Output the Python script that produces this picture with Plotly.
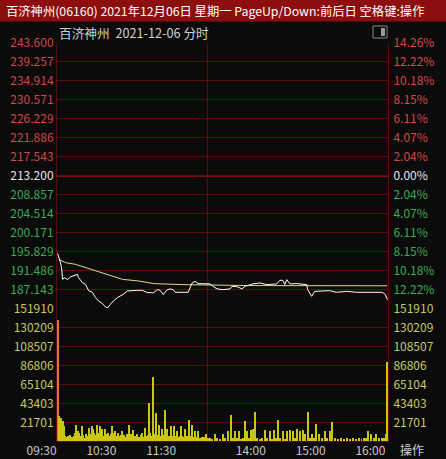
import plotly.graph_objects as go

# ---------------- data ----------------
prev_close = 213.2
price_levels = [243.600, 239.257, 234.914, 230.571, 226.229, 221.886, 217.543,
                213.200, 208.857, 204.514, 200.171, 195.829, 191.486, 187.143]
pct_labels = ["14.26%", "12.22%", "10.18%", "8.15%", "6.11%", "4.07%", "2.04%",
              "0.00%", "2.04%", "4.07%", "6.11%", "8.15%", "10.18%", "12.22%"]
vol_levels = [21701, 43403, 65104, 86806, 108507, 130209, 151910]
time_pos = [0, 60, 120, 210, 270, 330]
time_labels = ["09:30", "10:30", "11:30", "14:00", "15:00", "16:00"]
lunch_break = [150]

# minute index (0 = 09:30, 150 = 13:00 after lunch) and price
price_minutes = [0, 2, 4, 5, 7, 10, 13, 16, 20, 21, 25, 28, 31, 35, 38, 41, 45, 48, 50,
                 53, 56, 60, 63, 66, 70, 75, 80, 85, 90, 94, 96, 100, 103, 106, 110,
                 113, 116, 118, 131, 135, 138, 141, 150, 153, 156, 160, 166, 173, 175,
                 180, 183, 185, 188, 193, 196, 203, 210, 220, 223, 226, 228, 230, 233,
                 240, 250, 251, 255, 258, 263, 273, 280, 290, 300, 313, 320, 326, 329, 331]
price_values = [195.35, 194.0, 192.1, 189.43, 189.8, 189.4, 189.98, 190.2, 190.57, 189.8,
                188.67, 188.29, 186.9, 186.39, 185.25, 184.49, 183.87, 183.12, 182.85,
                183.7, 184.49, 185.25, 185.63, 186.0, 186.78, 186.91, 186.91, 186.91,
                186.39, 186.39, 186.32, 187.07, 186.91, 185.93, 187.07, 187.23, 187.07,
                186.46, 186.46, 188.6, 188.97, 188.45, 188.45, 188.38, 187.83, 187.24,
                187.07, 187.23, 187.83, 187.75, 187.46, 187.23, 187.83, 188.22, 188.38,
                188.6, 188.22, 188.38, 189.2, 189.2, 188.22, 189.36, 188.38, 188.45,
                188.22, 187.07, 185.54, 186.68, 186.68, 186.84, 186.46, 186.68, 186.46,
                186.46, 186.46, 186.46, 185.93, 184.79]

avg_minutes = [1, 8, 18, 31, 48, 65, 81, 93, 97, 126, 193, 331]
avg_values = [194.0, 193.25, 192.86, 191.94, 190.57, 189.43, 189.06, 188.6, 188.45,
              188.22, 188.0, 187.95]

vol_minutes = [0, 1, 2, 3, 4, 5, 6, 7, 8, 9, 10, 11, 12, 13, 14, 15, 16, 17, 18, 19, 20,
               21, 22, 23, 24, 25, 26, 27, 28, 29, 30, 31, 32, 33, 34, 35, 36, 37, 38, 39,
               40, 41, 42, 43, 44, 45, 46, 47, 48, 49, 50, 51, 52, 53, 54, 55, 56, 57, 58,
               59, 60, 61, 62, 63, 64, 65, 66, 67, 68, 69, 70, 71, 72, 73, 74, 75, 76, 77,
               78, 79, 80, 81, 82, 83, 84, 85, 86, 87, 88, 89, 90, 91, 92, 93, 94, 95, 96,
               97, 98, 99, 100, 101, 102, 103, 104, 105, 106, 107, 108, 109, 110, 111, 112,
               113, 114, 115, 116, 117, 118, 119, 120, 121, 122, 123, 124, 125, 126, 127,
               128, 129, 130, 131, 132, 133, 134, 135, 136, 137, 138, 139, 140, 141, 142,
               143, 144, 145, 146, 147, 148, 149,
               151, 153, 155, 158, 160, 163, 166, 168, 171, 174, 176, 178, 180, 182, 184,
               186, 188, 190, 192, 194, 196, 198, 200, 203, 205, 208, 210, 213, 215, 217,
               219, 221, 223, 226, 228, 230, 233, 236, 238, 240, 243, 246, 248, 251, 253,
               255, 257, 259, 262, 265, 268, 270, 273, 275, 278, 281, 284, 287, 290, 293,
               296, 299, 302, 305, 308, 310, 312, 315, 318, 320, 323, 326, 328, 330, 331]
vol_values = [138600, 28900, 24000, 26300, 20000, 22400, 16700, 6000, 5000, 4500, 5500,
              4000, 6500, 3500, 5000, 4000, 6000, 9000, 18600, 7000, 11000, 9000, 5500,
              4500, 16700, 7000, 6000, 4000, 5000, 7500, 4500, 6000, 14800, 8000, 6000,
              16700, 14000, 9000, 7000, 6500, 18600, 8000, 9500, 16700, 7000, 14000, 6000,
              5000, 14000, 8000, 6500, 9000, 5000, 6000, 7500, 16700, 9000, 6000, 11000,
              5500, 4500, 9000, 6000, 4000, 7000, 11000, 5000, 6500, 4500, 3500, 7500,
              5000, 18600, 6000, 8000, 4000, 13000, 5500, 4500, 6000, 7500, 4000, 5000,
              3500, 6500, 9000, 4500, 5000, 14800, 6000, 5500, 7000, 43400, 9000, 6000,
              5000, 73100, 8000, 6000, 32000, 7000, 5500, 18600, 6000, 5000, 14000, 4500,
              6500, 35800, 7000, 14000, 5000, 6000, 4500, 16700, 6000, 5000, 16700, 5500,
              4000, 11000, 5000, 4000, 6000, 16700, 5500, 4500, 5000, 14000, 4000, 6000,
              4500, 23500, 5000, 6000, 18600, 4500, 4000, 11000, 3500, 5000, 11000, 3000,
              4000, 3500, 5000, 3000, 4500, 3000, 7500,
              3000, 4000, 2500, 7500, 3000, 2500, 7500, 3000, 11000, 30000, 3500, 11000,
              3000, 11000, 2500, 4000, 22400, 11000, 3000, 12000, 14000, 33100, 3000,
              2000, 3500, 12000, 3000, 11000, 2500, 12000, 3000, 24300, 3500, 11000,
              2500, 11000, 12000, 11500, 3000, 14000, 11000, 12000, 7500, 33100, 3000,
              7500, 3000, 19800, 7500, 3000, 11000, 3000, 11000, 22000, 3500, 2500, 3000,
              2000, 3500, 2500, 3000, 2500, 3500, 2500, 3000, 3500, 11000, 8500, 3000,
              8500, 3000, 3500, 3000, 7500, 90000]

# ---------------- styling ----------------
BG = "#0b0b0b"
GRID = "#5e0d0d"
RED = "#d04848"
GREEN = "#3caa52"
WHITE = "#e6e6e6"
YEL = "#c8c864"
FONT = "Noto Sans CJK SC"

W, H = 446, 459
def px(x):
    return x / W
def py(y):
    return 1 - y / H

def col(v):
    if abs(v - prev_close) < 1e-6:
        return WHITE
    return RED if v > prev_close else GREEN

left_text = [f'<span style="color:{col(v)}">{v:.3f}</span>' for v in price_levels]
right_text = [f'<span style="color:{col(v)}">{t}</span>' for v, t in zip(price_levels, pct_labels)]
vol_text = [str(v) for v in vol_levels]

fig = go.Figure()
fig.add_trace(go.Bar(x=vol_minutes, y=vol_values, xaxis="x", yaxis="y2",
                     marker=dict(color=["#e07828"] + ["#c8c814"] * (len(vol_values) - 1),
                                 line=dict(width=0)),
                     width=1.0, showlegend=False, hoverinfo="skip"))
fig.add_trace(go.Scatter(x=avg_minutes, y=avg_values, mode="lines", xaxis="x", yaxis="y",
                         line=dict(color="#e0d88a", width=1), showlegend=False, hoverinfo="skip"))
fig.add_trace(go.Scatter(x=price_minutes, y=price_values, mode="lines", xaxis="x", yaxis="y",
                         line=dict(color="#ffffff", width=1), showlegend=False, hoverinfo="skip"))
# empty traces so that overlay axes are drawn
for xa, ya in [("x", "y3"), ("x", "y4"), ("x2", "y"), ("x2", "y2")]:
    fig.add_trace(go.Scatter(x=[None], y=[None], xaxis=xa, yaxis=ya, showlegend=False,
                             hoverinfo="skip"))

dom_price = [py(308.3), py(42.7)]
dom_vol = [py(441.3), py(308.3)]
xr = [-0.6, 331.6]

axis_common = dict(ticks="", showline=True, linecolor=GRID, linewidth=1, zeroline=False,
                   automargin=False, tickfont=dict(family=FONT, size=12))

fig.update_layout(
    template="none",
    width=W, height=H, margin=dict(l=0, r=0, t=0, b=0, pad=0, autoexpand=False),
    paper_bgcolor=BG, plot_bgcolor=BG, bargap=0, showlegend=False,
    xaxis=dict(domain=[px(57), px(388)], range=xr, anchor="y2", automargin=False,
               tickmode="array", tickvals=time_pos, ticktext=time_labels,
               ticklabelshift=-16, ticklabelstandoff=-2,
               tickfont=dict(family=FONT, size=12, color="#c8c8c8"),
               ticks="", showgrid=False, showline=True, linecolor=GRID, zeroline=False),
    xaxis2=dict(overlaying="x", range=xr, anchor="y2", automargin=False,
                tickmode="array", tickvals=lunch_break, showticklabels=False,
                ticks="", showgrid=True, gridcolor=GRID, gridwidth=1,
                showline=False, zeroline=False),
    yaxis=dict(domain=dom_price, range=[182.8, 243.6], anchor="x", side="left",
               tickmode="array", tickvals=price_levels, ticktext=left_text,
               showgrid=True, gridcolor=GRID, gridwidth=1, ticklabelstandoff=0,
               minor=dict(tickmode="array", tickvals=[prev_close], showgrid=True,
                          gridcolor="#7a1010", gridwidth=2, ticks=""),
               **axis_common),
    yaxis3=dict(overlaying="y", range=[182.8, 243.6], anchor="x", side="right",
                tickmode="array", tickvals=price_levels, ticktext=right_text,
                showgrid=False, ticklabelstandoff=2, **axis_common),
    yaxis2=dict(domain=dom_vol, range=[0, 151910], anchor="x", side="left",
                tickmode="array", tickvals=vol_levels, ticktext=vol_text,
                showgrid=True, gridcolor=GRID, gridwidth=1, ticklabelstandoff=0,
                **{**axis_common, "tickfont": dict(family=FONT, size=12, color=YEL)}),
    yaxis4=dict(overlaying="y2", range=[0, 151910], anchor="x", side="right",
                tickmode="array", tickvals=vol_levels, ticktext=vol_text,
                showgrid=False, ticklabelstandoff=2,
                **{**axis_common, "tickfont": dict(family=FONT, size=12, color=YEL)}),
)

# title bar
fig.add_shape(type="rect", xref="paper", yref="paper", x0=0, x1=1, y0=py(21.5), y1=1,
              fillcolor="#8c0e0e", line=dict(width=0), layer="below")
fig.add_annotation(xref="paper", yref="paper", x=px(4), y=py(11), xanchor="left",
                   yanchor="middle", showarrow=False,
                   text="百济神州(06160) 2021年12月06日 星期一 PageUp/Down:前后日 空格键:操作",
                   font=dict(family=FONT, size=12.3, color="#ffffff"))
fig.add_annotation(xref="paper", yref="paper", x=px(57), y=py(32), xanchor="left",
                   yanchor="middle", showarrow=False,
                   text="百济神州  2021-12-06 分时",
                   font=dict(family=FONT, size=12.7, color="#d0d0d0"))
# small window icon
fig.add_shape(type="rect", xref="paper", yref="paper", x0=px(373), x1=px(387),
              y0=py(38), y1=py(26), line=dict(color="#8a8a8a", width=1), fillcolor="rgba(0,0,0,0)")
fig.add_shape(type="rect", xref="paper", yref="paper", x0=px(381), x1=px(385),
              y0=py(36), y1=py(28), line=dict(width=0), fillcolor="#9a9a9a")
fig.add_annotation(xref="paper", yref="paper", x=px(412), y=py(449), xanchor="center",
                   yanchor="middle", showarrow=False, text="操作",
                   font=dict(family=FONT, size=12, color="#d0d0d0"))

fig.write_html("out.html", config={"displayModeBar": False},
               post_script="document.body.style.margin='0';document.body.style.background='#0b0b0b';")
